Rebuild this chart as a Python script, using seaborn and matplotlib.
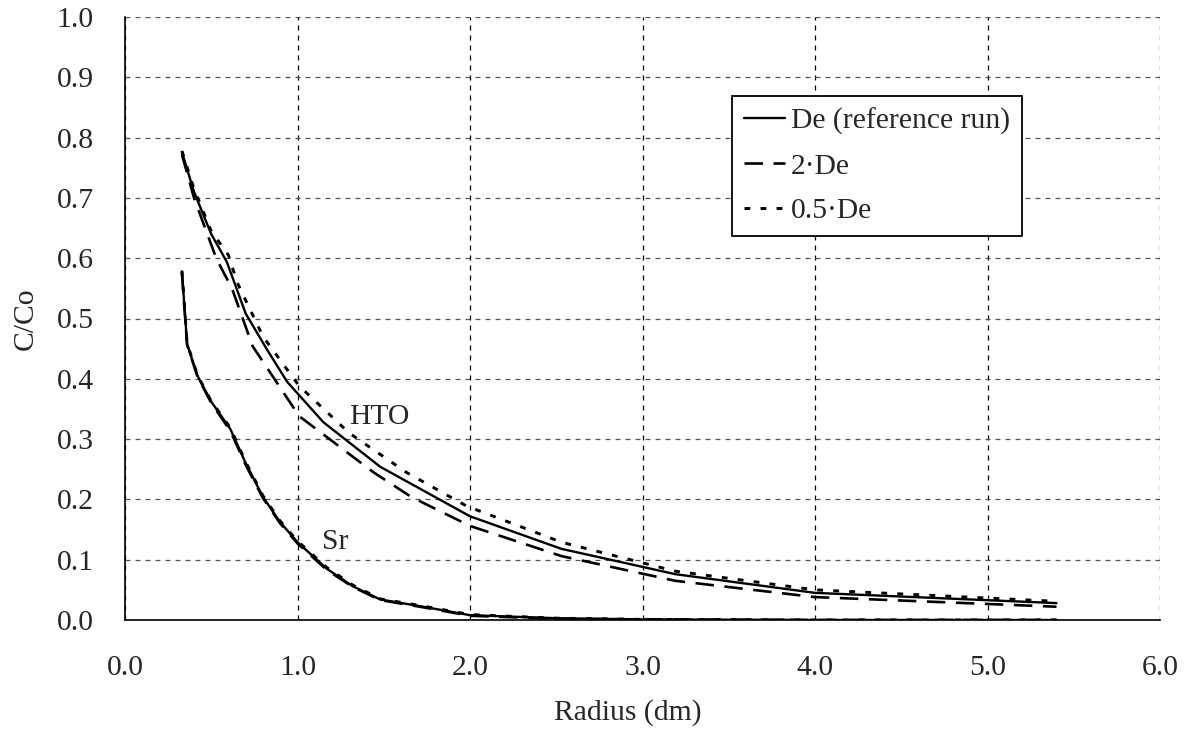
import numpy as np
import pandas as pd
import matplotlib
matplotlib.use('Agg')
import matplotlib.pyplot as plt
import seaborn as sns

# ---- data ----
# HTO, reference run (De)
hto_ref_r = [0.33, 0.40, 0.50, 0.59, 0.70, 0.82, 0.94, 1.15, 1.48, 2.00, 2.53, 3.19, 4.00, 5.40]
hto_ref_c = [0.776, 0.710, 0.640, 0.594, 0.508, 0.450, 0.395, 0.328, 0.254, 0.172, 0.118, 0.076, 0.045, 0.028]
# HTO, 2*De
hto_2de_r = [0.33, 0.40, 0.53, 0.62, 0.74, 1.01, 1.44, 1.66, 2.00, 2.53, 3.19, 4.00, 5.40]
hto_2de_c = [0.772, 0.700, 0.599, 0.550, 0.454, 0.338, 0.245, 0.204, 0.156, 0.106, 0.065, 0.038, 0.022]
# HTO, 0.5*De
hto_05de_r = [0.33, 0.40, 0.50, 0.60, 0.65, 0.80, 1.01, 1.30, 1.63, 1.98, 2.53, 3.19, 4.00, 5.40]
hto_05de_c = [0.778, 0.715, 0.645, 0.605, 0.560, 0.470, 0.388, 0.310, 0.245, 0.189, 0.129, 0.081, 0.050, 0.031]

# Sr (the three runs almost coincide)
sr_r = [0.33, 0.36, 0.42, 0.50, 0.61, 0.70, 0.80, 0.90, 1.00, 1.17, 1.32, 1.48, 1.71, 2.00, 2.50, 3.00, 4.00, 5.40]
sr_ref_c = [0.578, 0.458, 0.405, 0.362, 0.317, 0.260, 0.204, 0.162, 0.129, 0.085, 0.056, 0.034, 0.023, 0.008, 0.003, 0.001, 0.000, 0.000]
sr_2de_c = [0.576, 0.456, 0.404, 0.360, 0.314, 0.257, 0.202, 0.160, 0.127, 0.083, 0.055, 0.033, 0.022, 0.007, 0.002, 0.001, 0.000, 0.000]
sr_05de_c = [0.579, 0.459, 0.406, 0.363, 0.319, 0.262, 0.206, 0.164, 0.131, 0.087, 0.058, 0.035, 0.024, 0.009, 0.003, 0.001, 0.000, 0.000]

x_ticks = [0.0, 1.0, 2.0, 3.0, 4.0, 5.0, 6.0]
y_ticks = [0.0, 0.1, 0.2, 0.3, 0.4, 0.5, 0.6, 0.7, 0.8, 0.9, 1.0]

# ---- style ----
sns.set_style("white")
plt.rcParams['font.family'] = ['Liberation Serif', 'DejaVu Serif']
FS = 21.3

fig = plt.figure(figsize=(11.85, 7.31), dpi=100)
ax = fig.add_axes([125 / 1185, 111 / 731, 1035 / 1185, 603 / 731])

styles = {
    'ref': dict(linestyle='-', linewidth=1.7),
    '2de': dict(linestyle=(0, (7, 4)), linewidth=1.9),
    '05de': dict(linestyle=(0, (2, 3.5)), linewidth=2.1),
}

sns.lineplot(x=hto_ref_r, y=hto_ref_c, ax=ax, color='black', label='De (reference run)',
             estimator=None, sort=False, **styles['ref'])
sns.lineplot(x=hto_2de_r, y=hto_2de_c, ax=ax, color='black', label='2·De',
             estimator=None, sort=False, **styles['2de'])
sns.lineplot(x=hto_05de_r, y=hto_05de_c, ax=ax, color='black', label='0.5·De',
             estimator=None, sort=False, **styles['05de'])

sns.lineplot(x=sr_r, y=sr_2de_c, ax=ax, color='black', legend=False,
             estimator=None, sort=False, **styles['2de'])
sns.lineplot(x=sr_r, y=sr_05de_c, ax=ax, color='black', legend=False,
             estimator=None, sort=False, **styles['05de'])
sns.lineplot(x=sr_r, y=sr_ref_c, ax=ax, color='black', legend=False,
             estimator=None, sort=False, **styles['ref'])

ax.text(1.30, 0.337, 'HTO', fontsize=FS, va='center', ha='left')
ax.text(1.14, 0.129, 'Sr', fontsize=FS, va='center', ha='left')

ax.set_xlim(0, 6)
ax.set_ylim(0, 1)
ax.set_xticks(x_ticks)
ax.set_yticks(y_ticks)
ax.set_xticklabels([f'{v:.1f}' for v in x_ticks])
ax.set_yticklabels([f'{v:.1f}' for v in y_ticks])
ax.tick_params(axis='both', direction='out', length=6.5, width=1, color='black',
               labelsize=FS)
ax.tick_params(axis='x', pad=19)
ax.tick_params(axis='y', pad=16)
ax.set_xlabel('Radius (dm)', fontsize=FS)
ax.set_ylabel('C/Co', fontsize=FS)
ax.xaxis.set_label_coords(0.486, -0.131)
ax.yaxis.set_label_coords(-0.083, 0.5)

ax.grid(True)
ax.xaxis.grid(True, color='black', linestyle=(0, (4, 4)), linewidth=0.9)
ax.yaxis.grid(True, color='#555555', linestyle=(0, (4, 4)), linewidth=0.9)
for side in ['top', 'right']:
    ax.spines[side].set_visible(False)
for side in ['left', 'bottom']:
    ax.spines[side].set_color('black')
    ax.spines[side].set_linewidth(1.2)

leg = ax.legend(loc='upper left', bbox_to_anchor=(0.5865, 0.869), fontsize=FS,
                frameon=True, fancybox=False, shadow=False, framealpha=1,
                edgecolor='black', handlelength=1.4, handletextpad=0.2,
                labelspacing=0.6, borderpad=0.4, borderaxespad=0)
leg.get_frame().set_linewidth(1.3)

fig.savefig('out.png', dpi=100)
